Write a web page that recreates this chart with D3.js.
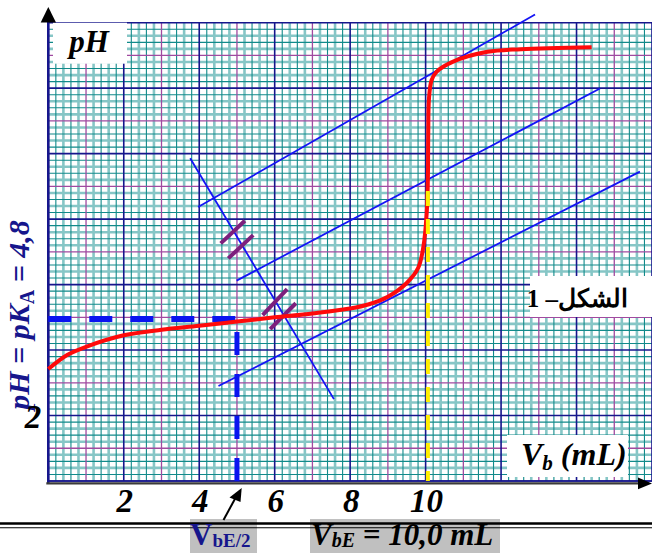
<!DOCTYPE html>
<html>
<head>
<meta charset="utf-8">
<script src="https://cdn.jsdelivr.net/npm/d3@7"></script>
<style>
  body { margin: 0; background: #fff; }
  svg { display: block; }
  text { font-family: "Liberation Serif", "Times New Roman", serif; font-weight: bold; }
</style>
</head>
<body>
<div id="chart"></div>
<script>
// titration curve
const volume = [0, 0.5, 1, 2, 3, 4, 5, 6, 7, 8, 8.5, 9, 9.5, 9.8, 9.94, 10.03, 10.06, 10.07, 10.09, 10.16, 10.29, 10.73, 11.64, 12.53, 14.4];
const ph     = [3.42, 3.85, 4.1, 4.45, 4.62, 4.74, 4.87, 5.0, 5.12, 5.27, 5.4, 5.63, 6.05, 6.5, 7.15, 8.2, 9.2, 10.6, 11.7, 12.25, 12.5, 12.81, 13.11, 13.19, 13.25];

const xTicks = [2, 4, 6, 8, 10];
const yTicks = [2];

// construction lines (V, pH)
const tangentA = [[3.97, 8.37], [12.9, 14.25]];
const tangentB = [[4.99, 6.12], [14.62, 11.99]];
const tangentC = [[4.51, 2.9], [15.68, 9.45]];
const normalLine = [[3.76, 9.86], [7.57, 2.5]];
const hashMarks = [
  [[4.57, 7.26], [5.21, 7.95]], [[4.77, 6.8], [5.43, 7.51]],
  [[5.68, 5.07], [6.33, 5.86]], [[5.88, 4.64], [6.56, 5.43]]
];
const halfPoint = [5, 4.95];
const equivVolume = 10.06;
const equivTop = 8.86;

const width = 652, height = 553;
const navy = "#16168c";

const x = d3.scaleLinear().domain([0, 16]).range([48.3, 652]);
const y = d3.scaleLinear().domain([0, 14]).range([481, 22.7]);

const svg = d3.select("#chart").append("svg")
  .attr("width", width)
  .attr("height", height);

// graph paper
const steps = d3.range(0, 81);
const hsteps = d3.range(0, 71);
const kind = i => i % 10 == 0 ? "major" : i % 5 == 0 ? "mid" : i % 2 == 0 ? "light" : "dark";
const styles = {
  light: { c: "#86c6c6", w: 2.6 },
  dark: { c: "#118a8a", w: 1.1 },
  mid: { c: "#a04aa0", w: 1.3 },
  major: { c: navy, w: 1.6 }
};
const grid = svg.append("g");
["light", "dark", "mid", "major"].forEach(k => {
  grid.selectAll("line.v" + k)
    .data(steps.filter(i => kind(i) == k))
    .enter().append("line")
      .attr("x1", i => x(i * 0.2)).attr("x2", i => x(i * 0.2))
      .attr("y1", y(14)).attr("y2", y(0))
      .attr("stroke", styles[k].c).attr("stroke-width", styles[k].w);
  grid.selectAll("line.h" + k)
    .data(hsteps.filter(i => kind(i) == k))
    .enter().append("line")
      .attr("y1", i => y(i * 0.2)).attr("y2", i => y(i * 0.2))
      .attr("x1", x(0)).attr("x2", x(16))
      .attr("stroke", styles[k].c).attr("stroke-width", styles[k].w);
});

// white label boxes on the paper
svg.append("rect").attr("x", 53).attr("y", y(14)).attr("width", 74).attr("height", 41).attr("fill", "#fff");
svg.append("rect").attr("x", 507).attr("y", 435).attr("width", 121).attr("height", 42).attr("fill", "#fff");
svg.append("rect").attr("x", 530).attr("y", 276).attr("width", 122).attr("height", 41).attr("fill", "#fff");

// axes
svg.append("line").attr("x1", x(0)).attr("x2", x(0)).attr("y1", 20).attr("y2", y(0) + 3)
  .attr("stroke", navy).attr("stroke-width", 2.6);
svg.append("line").attr("x1", x(0)).attr("x2", x(16)).attr("y1", y(0)).attr("y2", y(0))
  .attr("stroke", navy).attr("stroke-width", 1.6);
svg.append("line").attr("x1", x(0) - 2).attr("x2", 642).attr("y1", y(0) + 2.4).attr("y2", y(0) + 2.4)
  .attr("stroke", "#3a3a3a").attr("stroke-width", 2.4);
svg.append("path").attr("d", "M48.3,7 L40.7,22.5 L56,22.5 Z").attr("fill", "#000");
svg.append("path").attr("d", "M652,483.4 L638,477.5 L638,489.3 Z").attr("fill", "#000");

const line = d3.line().x(d => x(d[0])).y(d => y(d[1]));

// tangents and normal
[tangentA, tangentB, tangentC, normalLine].forEach(seg => {
  svg.append("path").attr("d", line(seg))
    .attr("stroke", "#1414f5").attr("stroke-width", 1.8).attr("fill", "none");
});
svg.selectAll("path.hash").data(hashMarks).enter().append("path")
  .attr("class", "hash")
  .attr("d", line)
  .attr("stroke", "#7d1f7d").attr("stroke-width", 4).attr("fill", "none");

// half-equivalence dashed lines
svg.append("path").attr("d", line([[0, halfPoint[1]], halfPoint]))
  .attr("stroke", "#0a14f0").attr("stroke-width", 6).attr("stroke-dasharray", "23 18").attr("fill", "none");
svg.append("path").attr("d", line([[halfPoint[0], 0], halfPoint]))
  .attr("stroke", "#0a14f0").attr("stroke-width", 5).attr("stroke-dasharray", "23 19").attr("fill", "none");

// titration curve
const curve = d3.line()
  .x(d => x(d[0])).y(d => y(d[1]))
  .curve(d3.curveCatmullRom.alpha(0.5));
svg.append("path")
  .attr("d", curve(volume.map((v, i) => [v, ph[i]])))
  .attr("stroke", "#ff0a0a").attr("stroke-width", 4).attr("fill", "none");

// equivalence dashed line
svg.append("path").attr("d", line([[equivVolume, equivTop], [equivVolume, 0]]))
  .attr("stroke", "#ffee00").attr("stroke-width", 4).attr("stroke-dasharray", "15 13").attr("fill", "none");

// tick labels
svg.selectAll("text.xt").data(xTicks).enter().append("text")
  .attr("x", d => x(d) + 1).attr("y", 512)
  .attr("text-anchor", "middle").attr("font-size", 33).attr("font-style", "italic")
  .text(d => d);

// rotated label
svg.append("text")
  .attr("transform", "translate(29,315) rotate(-90)")
  .attr("text-anchor", "middle").attr("font-size", 30).attr("font-style", "italic")
  .attr("fill", navy)
  .call(t => {
    t.append("tspan").text("pH = pK");
    t.append("tspan").attr("font-size", 20).attr("font-style", "normal").attr("dy", 5).text("A");
    t.append("tspan").attr("dy", -5).text(" = 4,8");
  });

svg.selectAll("text.yt").data(yTicks).enter().append("text")
  .attr("x", 33).attr("y", d => y(d) + 12)
  .attr("text-anchor", "middle").attr("font-size", 33).attr("font-style", "italic")
  .text(d => d);

// axis names
svg.append("text").attr("x", 89).attr("y", 52)
  .attr("text-anchor", "middle").attr("font-size", 31).attr("font-style", "italic")
  .text("pH");
svg.append("text").attr("x", 521).attr("y", 465)
  .attr("font-size", 32).attr("font-style", "italic")
  .call(t => {
    t.append("tspan").text("V");
    t.append("tspan").attr("font-size", 21).attr("dy", 5).text("b");
    t.append("tspan").attr("dy", -5).text(" (mL)");
  });
svg.append("text").attr("x", 628).attr("y", 307)
  .attr("direction", "rtl").attr("text-anchor", "start")
  .attr("font-size", 25)
  .text("الشكل– 1");

// bottom notes
svg.append("rect").attr("x", 190).attr("y", 519).attr("width", 67).attr("height", 34).attr("fill", "#c0c0c0");
svg.append("rect").attr("x", 310).attr("y", 519).attr("width", 190).attr("height", 34).attr("fill", "#c0c0c0");
svg.append("line").attr("x1", 0).attr("x2", width).attr("y1", 523.5).attr("y2", 523.5)
  .attr("stroke", "#000").attr("stroke-width", 2.4);
svg.append("line").attr("x1", 0).attr("x2", width).attr("y1", 527.8).attr("y2", 527.8)
  .attr("stroke", "#000").attr("stroke-width", 1.1);

svg.append("text").attr("x", 190).attr("y", 545)
  .attr("font-size", 31).attr("fill", navy)
  .call(t => {
    t.append("tspan").text("V");
    t.append("tspan").attr("font-size", 19).attr("dy", 2).text("bE/2");
  });
svg.append("text").attr("x", 311).attr("y", 545)
  .attr("font-size", 31).attr("font-style", "italic")
  .call(t => {
    t.append("tspan").text("V");
    t.append("tspan").attr("font-size", 20).attr("dy", 2).text("bE");
    t.append("tspan").attr("dy", -2).text(" = 10,0 mL");
  });

// arrow to V_bE/2
svg.append("line").attr("x1", 223.5).attr("y1", 520).attr("x2", 236).attr("y2", 497)
  .attr("stroke", "#000").attr("stroke-width", 2);
svg.append("path").attr("d", "M241.7,488 L229.5,497.5 L240.5,502 Z").attr("fill", "#000");
</script>
</body>
</html>
